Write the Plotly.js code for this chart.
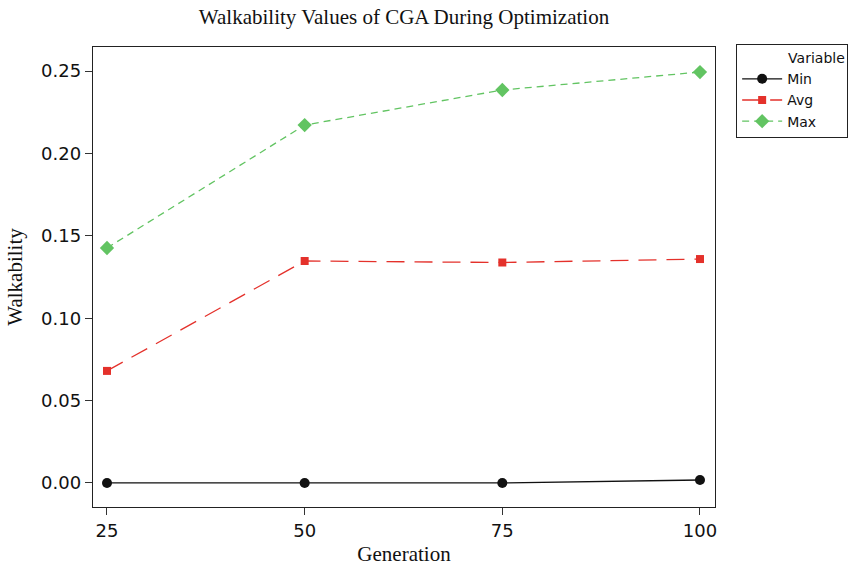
<!DOCTYPE html>
<html>
<head>
<meta charset="utf-8">
<script src="https://cdn.plot.ly/plotly-3.0.1.min.js"></script>
<style>html,body{margin:0;padding:0;background:#fff;}#chart{width:868px;height:568px;}</style>
</head>
<body>
<div id="chart"></div>
<script>
const generations = [25, 50, 75, 100];
const minValues = [0.0, 0.0, 0.0, 0.0018];
const avgValues = [0.068, 0.1347, 0.1338, 0.1359];
const maxValues = [0.1426, 0.2172, 0.2385, 0.2494];
const tickValsY = [0.00, 0.05, 0.10, 0.15, 0.20, 0.25];
const tickTextY = ["0.00", "0.05", "0.10", "0.15", "0.20", "0.25"];
const tickValsX = [25, 50, 75, 100];

const traces = [
  {x: generations, y: minValues, name: "Min", mode: "lines+markers", type: "scatter",
   line: {color: "#111111", width: 1.3, dash: "solid"},
   marker: {symbol: "circle", size: 10, color: "#111111"}},
  {x: generations, y: avgValues, name: "Avg", mode: "lines+markers", type: "scatter",
   line: {color: "#e4312b", width: 1.3, dash: "18px,10px"},
   marker: {symbol: "square", size: 8, color: "#e4312b"}},
  {x: generations, y: maxValues, name: "Max", mode: "lines+markers", type: "scatter",
   line: {color: "#62c462", width: 1.3, dash: "7px,5px"},
   marker: {symbol: "diamond", size: 11, color: "#62c462"}}
];

const layout = {
  width: 868, height: 568,
  margin: {l: 93, r: 153, t: 47, b: 61, pad: 0},
  paper_bgcolor: "#ffffff", plot_bgcolor: "#ffffff",
  title: {text: "Walkability Values of CGA During Optimization", x: 0.5, xref: "paper", y: 0.983, yanchor: "top",
          font: {family: "Liberation Serif, Times New Roman, serif", size: 21, color: "#111"}},
  xaxis: {range: [23.23, 101.9], tickvals: tickValsX, ticks: "outside", ticklen: 7, tickwidth: 1, tickcolor: "#333",
          showgrid: false, zeroline: false, showline: true, linecolor: "#222", linewidth: 1.3, mirror: true,
          tickfont: {family: "DejaVu Sans, Verdana, sans-serif", size: 18, color: "#111"},
          title: {text: "Generation", standoff: 6, font: {family: "Liberation Serif, Times New Roman, serif", size: 21, color: "#111"}}},
  yaxis: {range: [-0.0146, 0.2646], tickvals: tickValsY, ticktext: tickTextY, ticks: "outside", ticklen: 7, tickwidth: 1, tickcolor: "#333",
          showgrid: false, zeroline: false, showline: true, linecolor: "#222", linewidth: 1.3, mirror: true,
          tickfont: {family: "DejaVu Sans, Verdana, sans-serif", size: 18, color: "#111"},
          title: {text: "Walkability", standoff: 12, font: {family: "Liberation Serif, Times New Roman, serif", size: 21, color: "#111"}}},
  showlegend: true,
  legend: {x: 1.034, xanchor: "left", y: 1.0065, yanchor: "top", bordercolor: "#222", borderwidth: 1,
           bgcolor: "#fff", font: {family: "DejaVu Sans, Tahoma, sans-serif", size: 14, color: "#111"},
           title: {text: "           Variable", side: "top", font: {family: "DejaVu Sans, Tahoma, sans-serif", size: 14, color: "#111"}},
           tracegroupgap: 0, itemwidth: 40}
};

Plotly.newPlot("chart", traces, layout, {displayModeBar: false, staticPlot: true});
</script>
</body>
</html>
